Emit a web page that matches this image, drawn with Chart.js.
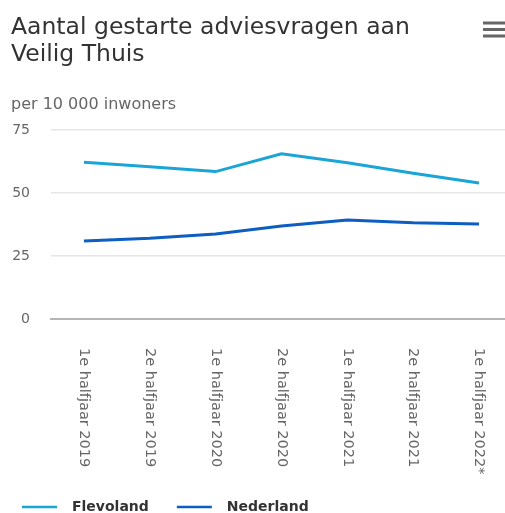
<!DOCTYPE html>
<html>
<head>
<meta charset="utf-8">
<script src="https://cdn.jsdelivr.net/npm/chart.js@4/dist/chart.umd.min.js"></script>
<style>
  html, body { margin: 0; padding: 0; background: #fff; overflow: hidden; width: 505px; height: 513px; }
  #wrap { width: 512px; height: 513px; }
</style>
</head>
<body>
<div id="wrap"><canvas id="c" width="512" height="513"></canvas></div>
<script>
const titleLines = ['Aantal gestarte adviesvragen aan', 'Veilig Thuis'];
const yAxisTitle = 'per 10 000 inwoners';
const categories = ['1e halfjaar 2019', '2e halfjaar 2019', '1e halfjaar 2020', '2e halfjaar 2020', '1e halfjaar 2021', '2e halfjaar 2021', '1e halfjaar 2022*'];
const seriesNames = ['Flevoland', 'Nederland'];
const flevoland = [62.2, 60.4, 58.5, 65.6, 62.0, 57.8, 54.0];
const nederland = [31.0, 32.0, 33.7, 36.9, 39.3, 38.2, 37.7];
const yTicks = [0, 25, 50, 75];

const FONT = "'DejaVu Sans', Verdana, sans-serif";
const colors = ['#1aa5d6', '#0d5ec0'];

const customDraw = {
  id: 'customDraw',
  afterDraw(chart) {
    const ctx = chart.ctx;
    const xs = chart.scales.x;
    const area = chart.chartArea;
    ctx.save();
    // rotated category labels, reading top to bottom
    ctx.fillStyle = '#666666';
    ctx.font = '14.5px ' + FONT;
    ctx.textAlign = 'left';
    ctx.textBaseline = 'middle';
    chart.data.labels.forEach((lab, i) => {
      const x = xs.getPixelForTick(i);
      ctx.save();
      ctx.translate(x, area.bottom + 29);
      ctx.rotate(Math.PI / 2);
      ctx.fillText(lab, 0, 0);
      ctx.restore();
    });
    // legend
    let lx = 22;
    const ly = 507;
    ctx.font = 'bold 14px ' + FONT;
    chart.data.datasets.forEach(ds => {
      ctx.strokeStyle = ds.borderColor;
      ctx.lineWidth = 2.5;
      ctx.beginPath();
      ctx.moveTo(lx, ly);
      ctx.lineTo(lx + 35, ly);
      ctx.stroke();
      ctx.fillStyle = '#333333';
      ctx.fillText(ds.label, lx + 50, ly);
      lx += 50 + ctx.measureText(ds.label).width + 28;
    });
    // menu icon
    ctx.fillStyle = '#666666';
    [21.5, 28, 34.5].forEach(y => ctx.fillRect(483, y, 22, 3));
    ctx.restore();
  }
};

new Chart(document.getElementById('c'), {
  type: 'line',
  data: {
    labels: categories,
    datasets: [
      { label: seriesNames[0], data: flevoland, borderColor: colors[0], backgroundColor: colors[0] },
      { label: seriesNames[1], data: nederland, borderColor: colors[1], backgroundColor: colors[1] }
    ]
  },
  options: {
    responsive: false,
    animation: false,
    devicePixelRatio: 1,
    layout: { padding: { left: 11, right: 0, top: 0, bottom: 0 } },
    elements: {
      line: { borderWidth: 3, tension: 0 },
      point: { radius: 0, hoverRadius: 0 }
    },
    plugins: {
      legend: { display: false },
      tooltip: { enabled: false },
      title: {
        display: true,
        text: titleLines,
        align: 'start',
        color: '#333333',
        font: { family: FONT, size: 23.5, weight: 'normal', lineHeight: 1.136 },
        padding: { top: 14.5, bottom: 27.5 }
      },
      subtitle: {
        display: true,
        text: yAxisTitle,
        align: 'start',
        color: '#666666',
        font: { family: FONT, size: 16, weight: 'normal', lineHeight: 1.2 },
        padding: { top: 0, bottom: 15.4 }
      }
    },
    scales: {
      x: {
        offset: true,
        grid: { display: false, drawTicks: false },
        border: { display: true, color: '#b5b5b5', width: 2 },
        ticks: { display: false, padding: 0 },
        afterFit(scale) { scale.height = 513 - 319; }
      },
      y: {
        min: 0,
        max: 75,
        afterBuildTicks(scale) { scale.ticks = yTicks.map(v => ({ value: v })); },
        grid: { color: '#e6e6e6', drawTicks: false, lineWidth: 1.5 },
        border: { display: false },
        ticks: { color: '#666666', font: { family: FONT, size: 14 }, padding: 21 },
        afterFit(scale) { scale.width = 40; }
      }
    }
  },
  plugins: [customDraw]
});
</script>
</body>
</html>
